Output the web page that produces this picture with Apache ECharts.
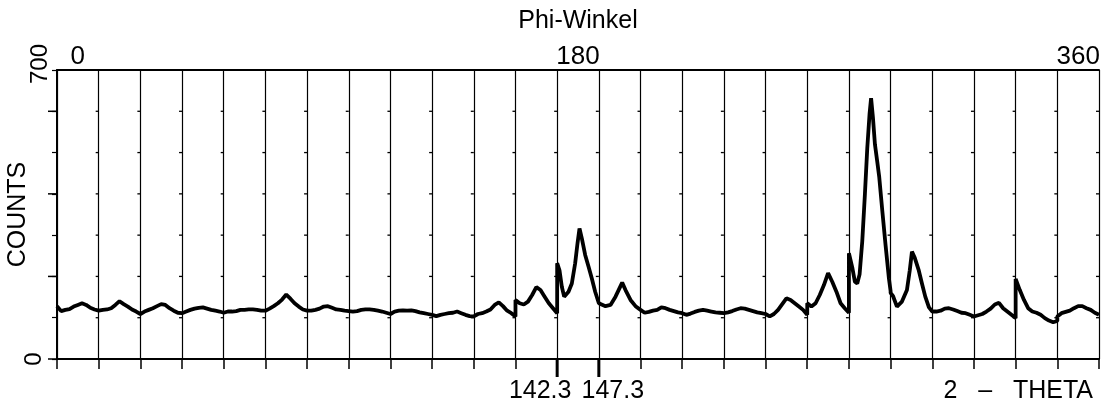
<!DOCTYPE html>
<html>
<head>
<meta charset="utf-8">
<script src="https://cdn.jsdelivr.net/npm/echarts@6/dist/echarts.min.js"></script>
<style>
  html, body { margin: 0; padding: 0; background: #fff; }
  #chart { width: 1105px; height: 408px; }
</style>
</head>
<body>
<div id="chart"></div>
<script>
// 25 scans of 2-theta 142.3..147.3, one per phi step of 15 degrees
// plain arrays = counts at offsets 0, 0.5 ... 5 ; pairs = [offset, counts]
const halfSteps = [0, 0.5, 1, 1.5, 2, 2.5, 3, 3.5, 4, 4.5, 5];

const seg00 = [128, 116, 119, 121, 127, 131, 135, 131, 124, 120, 117];
const seg01 = [117, 119, 120, 123, 131, 140, 133, 127, 120, 115, 109];
const seg02 = [109, 115, 119, 123, 128, 133, 131, 123, 117, 112, 111];
const seg03 = [111, 115, 119, 122, 124, 125, 122, 119, 117, 115, 112];
const seg04 = [112, 115, 115, 116, 119, 119, 120, 120, 119, 117, 117];
const seg05 = [117, 122, 128, 135, 144, 156, 146, 135, 127, 120, 117];
const seg06 = [117, 117, 119, 122, 127, 128, 124, 120, 119, 117, 116];
const seg07 = [116, 115, 116, 119, 120, 120, 119, 117, 115, 112, 109];
const seg08 = [110, 115, 117, 118, 117, 118, 116, 113, 111, 109, 107];
const seg09 = [107, 104, 107, 109, 111, 112, 115, 111, 107, 104, 103];
const seg10 = [106, 109, 111, 115, 120, 131, 137, 128, 117, 111, 103];
const seg11 = [143, 135, 132, 139, 155, 174, 167, 151, 135, 123, 111];
const seg12 = [[0, 232], [0.28, 215], [0.56, 175], [0.84, 151], [1.36, 163], [1.76, 183],
               [2.16, 232], [2.44, 280], [2.68, 316], [2.96, 292], [3.36, 252], [3.76, 224],
               [4.16, 195], [4.56, 163], [5, 135]];
const seg13 = [[0, 135], [0.2, 133], [0.8, 128], [1.4, 131], [2.0, 151], [2.4, 168],
               [2.8, 185], [3.2, 167], [3.8, 143], [4.4, 128], [5, 119]];
const seg14 = [119, 112, 114, 117, 119, 125, 123, 119, 116, 113, 111];
const seg15 = [109, 107, 110, 114, 117, 119, 117, 115, 113, 112, 111];
const seg16 = [111, 113, 116, 120, 123, 122, 119, 116, 113, 111, 109];
const seg17 = [107, 103, 109, 119, 133, 147, 143, 135, 127, 119, 107];
const seg18 = [135, 127, 135, 155, 179, 208, 187, 163, 135, 123, 112];
const seg19 = [[0, 256], [0.4, 222], [0.72, 187], [1.0, 183], [1.28, 205], [1.6, 285],
               [1.92, 400], [2.2, 510], [2.48, 595], [2.66, 632], [2.88, 585], [3.12, 520],
               [3.4, 478], [3.64, 440], [4.0, 360], [4.4, 275], [4.8, 195], [5, 165]];
const seg20 = [[0, 160], [0.3, 152], [0.76, 127], [1.36, 139], [1.96, 167], [2.3, 215],
               [2.56, 260], [2.9, 245], [3.36, 216], [3.76, 183], [4.16, 151], [4.6, 125], [5, 115]];
const seg21 = [112, 115, 117, 122, 123, 120, 116, 112, 111, 107, 103];
const seg22 = [103, 106, 109, 115, 122, 132, 136, 123, 115, 107, 99];
const seg23 = [194, 167, 143, 123, 115, 112, 107, 99, 93, 89, 92];
const seg24 = [103, 111, 114, 117, 123, 128, 128, 123, 119, 112, 107];

const segments = [seg00, seg01, seg02, seg03, seg04, seg05, seg06, seg07, seg08, seg09,
                  seg10, seg11, seg12, seg13, seg14, seg15, seg16, seg17, seg18, seg19,
                  seg20, seg21, seg22, seg23, seg24];
const segWidth = 5;

const phiLabels = [0, 180, 360];
const phiStep = 15;
const thetaLabelSegment = 12;
const thetaLabels = ['142.3', '147.3'];
const countLabels = [0, 700];
const longCountTicks = [0, 200, 400, 600];
const gridMarkCounts = [100, 200, 300, 400, 500, 600];

const font = "'Liberation Sans',Arial,sans-serif";

// flatten scans onto one x scale (segment index * 5 + 2theta offset)
let trace = [];
segments.forEach((seg, i) => {
    seg.forEach((p, k) => {
        const off = Array.isArray(p) ? p[0] : halfSteps[k];
        const v = Array.isArray(p) ? p[1] : p;
        trace.push([i * segWidth + off, v]);
    });
});

const xMax = segments.length * segWidth;
const thetaStart = thetaLabelSegment * segWidth;
const thetaEnd = thetaStart + segWidth;

let boundaryMarks = [];
for (let b = segWidth; b <= xMax; b += segWidth) {
    gridMarkCounts.forEach(c => boundaryMarks.push([b, c]));
}

const chart = echarts.init(document.getElementById('chart'));

chart.setOption({
    animation: false,
    backgroundColor: '#fff',
    grid: { left: 57, right: 6, top: 70, bottom: 49, containLabel: false, outerBoundsMode: 'none' },
    xAxis: [
        {
            type: 'value',
            min: 0,
            max: xMax,
            interval: segWidth,
            name: '2   \u2013   THETA',
            nameLocation: 'end',
            nameGap: -6,
            nameMoveOverlap: false,
            nameTextStyle: {
                color: '#000', fontFamily: font, fontSize: 25,
                align: 'right', verticalAlign: 'top', padding: [20, 0, 0, 0]
            },
            axisLine: { lineStyle: { color: '#000', width: 2 } },
            axisTick: { length: 10, lineStyle: { color: '#000', width: 1.5 } },
            splitLine: { show: true, lineStyle: { color: '#000', width: 1.2 } },
            axisLabel: {
                customValues: [thetaStart, thetaEnd],
                margin: 20,
                formatter: v => v === thetaStart ? '{l|' + thetaLabels[0] + '}' : '{r|' + thetaLabels[1] + '}',
                rich: {
                    l: { fontFamily: font, fontSize: 25, color: '#000', padding: [0, 34, 0, 0] },
                    r: { fontFamily: font, fontSize: 25, color: '#000', padding: [0, 0, 0, 28] }
                }
            }
        },
        {
            type: 'value',
            position: 'top',
            min: -phiStep / 2,
            max: segments.length * phiStep - phiStep / 2,
            name: 'Phi-Winkel',
            nameLocation: 'middle',
            nameGap: 36,
            nameMoveOverlap: false,
            nameTextStyle: { color: '#000', fontFamily: font, fontSize: 25 },
            axisLine: { lineStyle: { color: '#000', width: 2 } },
            axisTick: { show: false },
            splitLine: { show: false },
            axisLabel: {
                customValues: phiLabels,
                margin: 0,
                color: '#000', fontFamily: font, fontSize: 26, lineHeight: 26
            }
        }
    ],
    yAxis: {
        type: 'value',
        min: 0,
        max: 700,
        interval: 100,
        name: 'COUNTS',
        nameLocation: 'middle',
        nameGap: 26,
        nameMoveOverlap: false,
        nameTextStyle: { color: '#000', fontFamily: font, fontSize: 25 },
        axisLine: { show: true, lineStyle: { color: '#000', width: 2 } },
        axisTick: { show: true, length: 5, lineStyle: { color: '#000', width: 1.2 } },
        splitLine: { show: false },
        axisLabel: {
            rotate: 90,
            margin: 5,
            formatter: v => v === countLabels[1] ? '{a|' + v + '}' : (v === countLabels[0] ? '{b|' + v + '}' : ''),
            rich: {
                a: { fontFamily: font, fontSize: 24, color: '#000', padding: [0, 0, 0, 12] },
                b: { fontFamily: font, fontSize: 24, color: '#000', padding: [0, 0, 6, 0] }
            }
        }
    },
    series: [
        {
            type: 'line',
            data: trace,
            showSymbol: false,
            symbol: 'none',
            lineStyle: { color: '#000', width: 3.8 },
            z: 5
        },
        {
            // long marks below the axis at the scan limits
            type: 'custom',
            data: [[thetaStart, 0], [thetaEnd, 0]],
            renderItem: function (params, api) {
                const p = api.coord([api.value(0), api.value(1)]);
                return {
                    type: 'line',
                    shape: { x1: p[0], y1: p[1], x2: p[0], y2: p[1] + 18 },
                    style: { stroke: '#000', lineWidth: 3 }
                };
            },
            z: 6
        },
        {
            // longer ticks on the count axis
            type: 'custom',
            data: longCountTicks.map(c => [0, c]),
            renderItem: function (params, api) {
                const p = api.coord([api.value(0), api.value(1)]);
                return {
                    type: 'line',
                    shape: { x1: p[0] - 9, y1: p[1], x2: p[0], y2: p[1] },
                    style: { stroke: '#000', lineWidth: 1.5 }
                };
            },
            z: 6
        },
        {
            // little count marks on every scan boundary
            type: 'custom',
            data: boundaryMarks,
            renderItem: function (params, api) {
                const p = api.coord([api.value(0), api.value(1)]);
                return {
                    type: 'line',
                    shape: { x1: p[0] - 3, y1: p[1], x2: p[0], y2: p[1] },
                    style: { stroke: '#000', lineWidth: 1.3 }
                };
            },
            z: 4
        }
    ]
});
</script>
</body>
</html>
